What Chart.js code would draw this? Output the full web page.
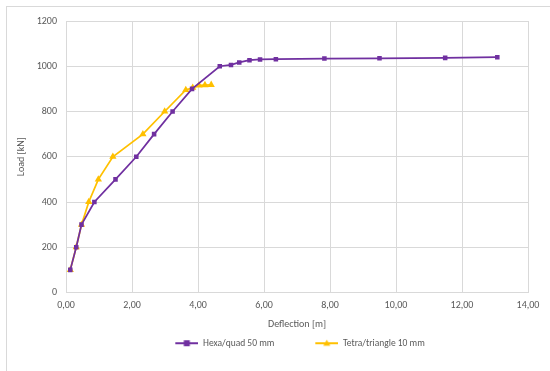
<!DOCTYPE html>
<html>
<head>
<meta charset="utf-8">
<script src="https://cdn.jsdelivr.net/npm/chart.js@4.4.1/dist/chart.umd.min.js"></script>
<style>
html,body{margin:0;padding:0;background:#fff;overflow:hidden;}
#wrap{position:absolute;left:0;top:0;width:550px;height:371px;}
</style>
</head>
<body>
<div id="wrap"><canvas id="c" width="550" height="371"></canvas></div>
<script>
// Data
const hexaX = [0.13, 0.31, 0.47, 0.86, 1.50, 2.13, 2.67, 3.23, 3.82, 4.66, 5.00, 5.25, 5.56, 5.88, 6.36, 7.83, 9.50, 11.49, 13.07];
const hexaY = [100, 200, 300, 400, 500, 600, 700, 800, 900, 1000, 1006, 1017, 1027, 1030, 1031, 1034, 1035, 1037, 1040];
const tetraX = [0.13, 0.31, 0.47, 0.69, 0.98, 1.42, 2.33, 2.99, 3.63, 3.84, 4.03, 4.21, 4.40];
const tetraY = [100, 200, 300, 400, 500, 600, 700, 800, 895, 905, 915, 917, 918];
const seriesNames = ["Hexa/quad 50 mm", "Tetra/triangle 10 mm"];
const xTicks = [0, 2, 4, 6, 8, 10, 12, 14];
const yTicks = [0, 200, 400, 600, 800, 1000, 1200];
const xTitle = "Deflection [m]";
const yTitle = "Load [kN]";

const PURPLE = "#7030a0";
const YELLOW = "#ffc000";
const FONT = "Carlito, Calibri, Lato, 'Open Sans', sans-serif";
const FS = 10;
const LEAD = 31; // transparent lead-in of each legend symbol (item spacing)

function pts(xs, ys){ return xs.map((x,i)=>({x:x, y:ys[i]})); }

function legendIcon(color, shape){
  const cv = document.createElement('canvas');
  cv.width = LEAD + 23; cv.height = 10;
  const g = cv.getContext('2d');
  g.translate(LEAD, 0);
  g.strokeStyle = color; g.lineWidth = 2;
  g.beginPath(); g.moveTo(0,5); g.lineTo(23,5); g.stroke();
  g.fillStyle = color;
  if(shape === 'rect'){ g.fillRect(8.5,2,6,6); }
  else { g.beginPath(); g.moveTo(11.5,1.5); g.lineTo(15,7.5); g.lineTo(8,7.5); g.closePath(); g.fill(); }
  return cv;
}
const icons = [legendIcon(PURPLE,'rect'), legendIcon(YELLOW,'tri')];

const framePlugin = {
  id:'frame',
  beforeDraw(chart){
    const ctx = chart.ctx;
    ctx.save();
    ctx.fillStyle = '#fff';
    ctx.fillRect(0,0,chart.width,chart.height);
    ctx.strokeStyle = '#d9d9d9';
    ctx.lineWidth = 1;
    ctx.strokeRect(6.5,6.5,600,400);
    ctx.restore();
  },
  afterLayout(chart){
    const lg = chart.legend, ca = chart.chartArea;
    if (lg) {
      const shift = ((ca.left + ca.right) / 2 + 3 - LEAD / 2) - (lg.left + lg.right) / 2;
      lg.left += shift; lg.right += shift;
      lg.top -= 2; lg.bottom -= 2;
    }
  }
};

new Chart(document.getElementById('c'), {
  type: 'scatter',
  data: {
    datasets: [
      { label: seriesNames[0], data: pts(hexaX, hexaY), showLine: true,
        borderColor: PURPLE, backgroundColor: PURPLE, borderWidth: 1.75,
        pointStyle: 'rect', pointRadius: 3.2, pointHoverRadius: 3.2, pointBorderWidth: 0 },
      { label: seriesNames[1], data: pts(tetraX, tetraY), showLine: true,
        borderColor: YELLOW, backgroundColor: YELLOW, borderWidth: 1.75,
        pointStyle: 'triangle', pointRadius: 4.2, pointHoverRadius: 4.2, pointBorderWidth: 0 }
    ]
  },
  options: {
    responsive: false,
    animation: false,
    devicePixelRatio: 1,
    layout: { padding: { left: 0, right: 22, top: 21, bottom: 11 } },
    plugins: {
      tooltip: { enabled: false },
      legend: {
        position: 'bottom',
        labels: {
          font: { family: FONT, size: 9.5 },
          color: '#595959',
          usePointStyle: true,
          pointStyleWidth: LEAD + 23,
          boxHeight: 10,
          padding: 10,
          generateLabels(chart){
            return chart.data.datasets.map((ds,i)=>({
              text: ds.label, pointStyle: icons[i], fillStyle: ds.borderColor,
              strokeStyle: ds.borderColor, lineWidth: 0, hidden: false, datasetIndex: i,
              fontColor: '#595959'
            }));
          }
        }
      }
    },
    scales: {
      x: {
        type: 'linear', min: 0, max: 14,
        afterBuildTicks(scale){ scale.ticks = xTicks.map(v=>({value:v})); },
        ticks: { font: { family: FONT, size: FS }, color: '#595959', padding: 7,
                 callback: v => v.toFixed(2).replace('.', ',') },
        grid: { color: '#d9d9d9', drawTicks: false, lineWidth: 1 },
        border: { color: '#d9d9d9' },
        title: { display: true, text: xTitle, font: { family: FONT, size: FS }, color: '#595959', padding: { top: 0, bottom: 0 } }
      },
      y: {
        type: 'linear', min: 0, max: 1200,
        afterBuildTicks(scale){ scale.ticks = yTicks.map(v=>({value:v})); },
        afterFit(scale){ scale.width = 66; },
        ticks: { font: { family: FONT, size: FS }, color: '#595959', padding: 9,
                 callback: v => String(v) },
        grid: { color: '#d9d9d9', drawTicks: false, lineWidth: 1 },
        border: { color: '#d9d9d9' },
        title: { display: true, text: yTitle, font: { family: FONT, size: FS }, color: '#595959', padding: { top: 15, bottom: 0 } }
      }
    }
  },
  plugins: [framePlugin]
});
</script>
</body>
</html>
